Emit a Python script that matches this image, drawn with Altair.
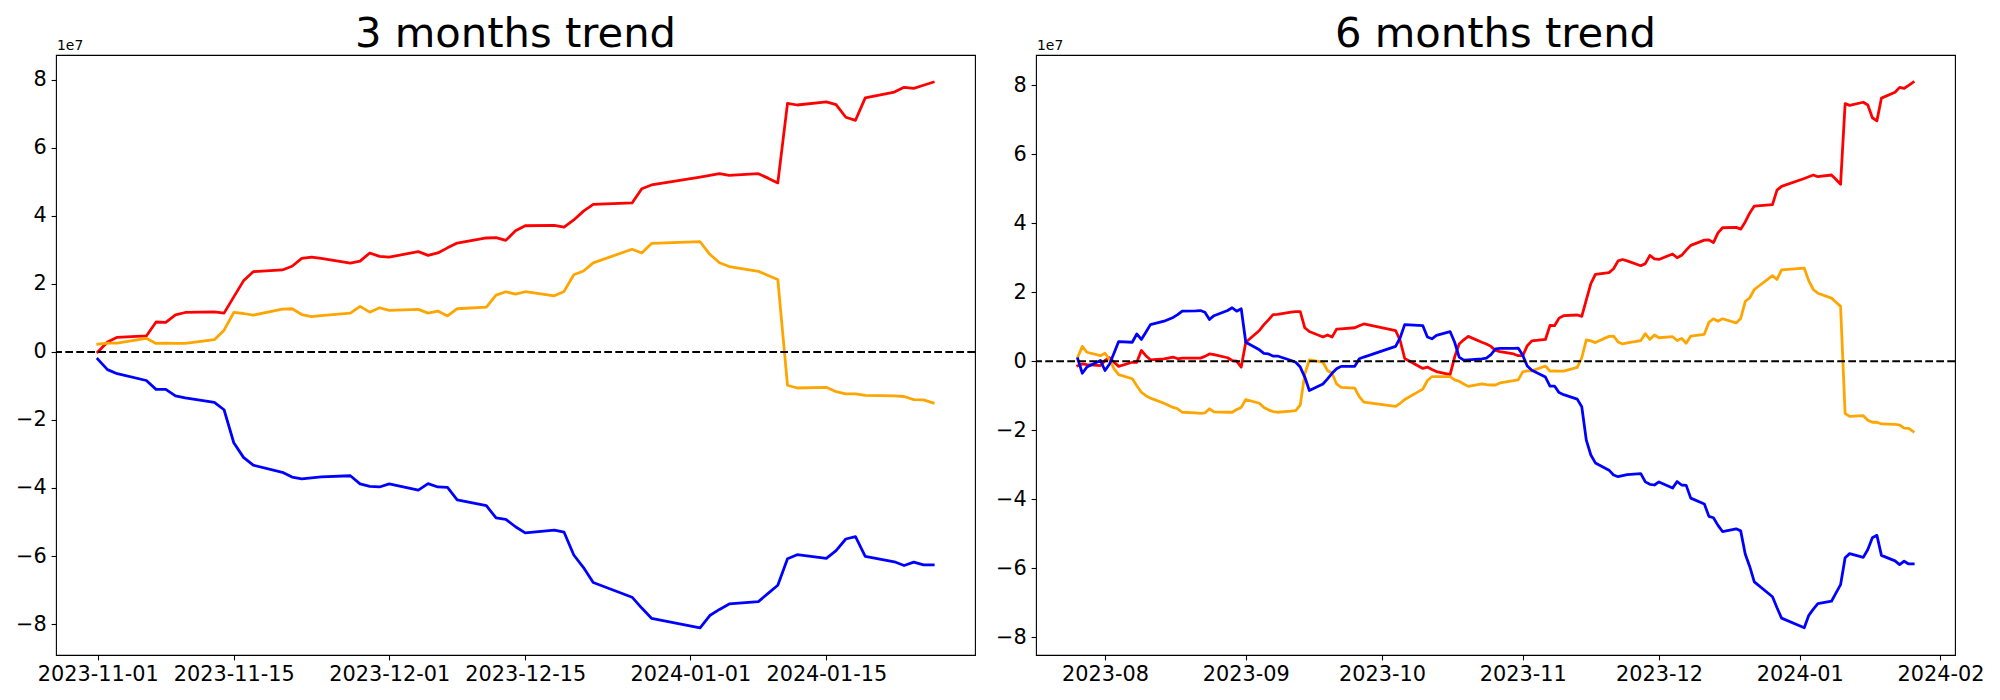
import altair as alt
import pandas as pd

# ---------------- 3 months panel (values in units of 1e7) ----------------
dates_3m = [
    "2023-11-01", "2023-11-02", "2023-11-03", "2023-11-06", "2023-11-07", "2023-11-08", "2023-11-09",
    "2023-11-10", "2023-11-13", "2023-11-14", "2023-11-15", "2023-11-16", "2023-11-17", "2023-11-20",
    "2023-11-21", "2023-11-22", "2023-11-23", "2023-11-24", "2023-11-27", "2023-11-28", "2023-11-29",
    "2023-11-30",
    "2023-12-01", "2023-12-04", "2023-12-05", "2023-12-06", "2023-12-07", "2023-12-08", "2023-12-11",
    "2023-12-12", "2023-12-13", "2023-12-14", "2023-12-15", "2023-12-18", "2023-12-19", "2023-12-20",
    "2023-12-21", "2023-12-22", "2023-12-26", "2023-12-27", "2023-12-28",
    "2024-01-02", "2024-01-03", "2024-01-04", "2024-01-05", "2024-01-08", "2024-01-09", "2024-01-10",
    "2024-01-11", "2024-01-12", "2024-01-15", "2024-01-16", "2024-01-17", "2024-01-18", "2024-01-19",
    "2024-01-22", "2024-01-23", "2024-01-24", "2024-01-25", "2024-01-26",
]
red_3m = [
    0.00, 0.29, 0.43, 0.47, 0.88, 0.87, 1.09, 1.16, 1.18, 1.14, 1.62, 2.09, 2.36, 2.41, 2.52, 2.75,
    2.79, 2.75, 2.61, 2.67, 2.91, 2.81,
    2.79, 2.95, 2.84, 2.91, 3.06, 3.20, 3.35, 3.36, 3.28, 3.56, 3.71, 3.72, 3.67, 3.88, 4.14, 4.34,
    4.38, 4.80, 4.91,
    5.14, 5.19, 5.24, 5.19, 5.24, 5.11, 4.97, 7.31, 7.26, 7.35, 7.27, 6.90, 6.81, 7.47, 7.64, 7.78,
    7.75, 7.84, 7.93,
]
orange_3m = [
    0.23, 0.26, 0.26, 0.40, 0.25, 0.26, 0.25, 0.25, 0.36, 0.64, 1.16, 1.13, 1.08, 1.26, 1.27, 1.10,
    1.04, 1.07, 1.14, 1.34, 1.17, 1.30,
    1.22, 1.25, 1.14, 1.20, 1.06, 1.27, 1.32, 1.67, 1.77, 1.70, 1.77, 1.65, 1.78, 2.27, 2.38, 2.62,
    3.02, 2.91, 3.19,
    3.24, 2.87, 2.62, 2.51, 2.37, 2.25, 2.13, -0.98, -1.06, -1.04, -1.17, -1.23, -1.23, -1.28, -1.29,
    -1.31, -1.40, -1.41, -1.50,
]
blue_3m = [
    -0.21, -0.52, -0.64, -0.84, -1.10, -1.10, -1.29, -1.35, -1.48, -1.70, -2.67, -3.10, -3.33, -3.54,
    -3.68, -3.73, -3.70, -3.67, -3.64, -3.88, -3.95, -3.97,
    -3.88, -4.06, -3.87, -3.97, -3.98, -4.35, -4.52, -4.88, -4.92, -5.14, -5.32, -5.24, -5.30, -5.97,
    -6.34, -6.78, -7.21, -7.53, -7.83,
    -8.11, -7.75, -7.57, -7.41, -7.34, -7.10, -6.86, -6.08, -5.96, -6.07, -5.84, -5.50, -5.43, -6.01,
    -6.17, -6.28, -6.18, -6.26, -6.26,
]

# ---------------- 6 months panel (values in units of 1e7) ----------------
dates_6m = [
    "2023-07-26", "2023-07-27", "2023-07-28", "2023-07-31",
    "2023-08-01", "2023-08-02", "2023-08-03", "2023-08-04", "2023-08-07", "2023-08-08", "2023-08-09",
    "2023-08-10", "2023-08-11", "2023-08-14", "2023-08-16", "2023-08-17", "2023-08-18", "2023-08-21",
    "2023-08-22", "2023-08-23", "2023-08-24", "2023-08-25", "2023-08-28", "2023-08-29", "2023-08-30",
    "2023-08-31",
    "2023-09-01", "2023-09-04", "2023-09-05", "2023-09-06", "2023-09-07", "2023-09-08", "2023-09-11",
    "2023-09-12", "2023-09-13", "2023-09-14", "2023-09-15", "2023-09-18", "2023-09-19", "2023-09-20",
    "2023-09-21", "2023-09-22", "2023-09-25", "2023-09-26", "2023-09-27",
    "2023-10-04", "2023-10-05", "2023-10-06", "2023-10-10", "2023-10-11", "2023-10-12", "2023-10-13",
    "2023-10-16", "2023-10-17", "2023-10-18", "2023-10-19", "2023-10-20", "2023-10-23", "2023-10-24",
    "2023-10-25", "2023-10-26", "2023-10-27", "2023-10-30", "2023-10-31",
] + dates_3m
red_6m = [
    -0.13, -0.08, -0.10, -0.13,
    0.02, 0.10, -0.03, -0.15, -0.03, -0.03, 0.31, 0.16, 0.04, 0.07, 0.12, 0.07, 0.09, 0.09, 0.09, 0.14,
    0.21, 0.19, 0.10, 0.02, 0.00, -0.17,
    0.55, 0.89, 1.06, 1.20, 1.35, 1.36, 1.42, 1.44, 1.44, 0.97, 0.86, 0.70, 0.76, 0.70, 0.93, 0.94,
    0.97, 1.03, 1.08,
    0.89, 0.60, 0.08, -0.21, -0.17, -0.24, -0.30, -0.39, 0.12, 0.50, 0.62, 0.72, 0.55, 0.50, 0.43,
    0.31, 0.28, 0.21, 0.16,
    0.16, 0.45, 0.59, 0.63, 1.04, 1.03, 1.25, 1.32, 1.34, 1.30, 1.78, 2.25, 2.52, 2.57, 2.68, 2.91,
    2.95, 2.91, 2.77, 2.83, 3.07, 2.97,
    2.95, 3.11, 3.00, 3.07, 3.22, 3.36, 3.51, 3.52, 3.44, 3.72, 3.87, 3.88, 3.83, 4.04, 4.30, 4.50,
    4.54, 4.96, 5.07,
    5.30, 5.35, 5.40, 5.35, 5.40, 5.27, 5.13, 7.47, 7.42, 7.51, 7.43, 7.06, 6.97, 7.63, 7.80, 7.94,
    7.91, 8.00, 8.09,
]
orange_6m = [
    0.12, 0.43, 0.26, 0.16,
    0.23, 0.04, -0.22, -0.39, -0.51, -0.71, -0.90, -1.00, -1.07, -1.22, -1.34, -1.38, -1.48, -1.50,
    -1.51, -1.50, -1.38, -1.47, -1.48, -1.48, -1.40, -1.34,
    -1.11, -1.22, -1.34, -1.41, -1.46, -1.48, -1.45, -1.43, -1.27, -0.37, 0.04, -0.03, -0.27, -0.35,
    -0.66, -0.76, -0.78, -1.03, -1.19,
    -1.31, -1.22, -1.11, -0.81, -0.56, -0.45, -0.45, -0.45, -0.54, -0.58, -0.66, -0.73, -0.66, -0.68,
    -0.69, -0.69, -0.63, -0.56, -0.54,
    -0.31, -0.28, -0.28, -0.14, -0.29, -0.28, -0.29, -0.29, -0.18, 0.10, 0.62, 0.59, 0.54, 0.72,
    0.73, 0.56, 0.50, 0.53, 0.60, 0.80, 0.63, 0.76,
    0.68, 0.71, 0.60, 0.66, 0.52, 0.73, 0.78, 1.13, 1.23, 1.16, 1.23, 1.11, 1.24, 1.73, 1.84, 2.08,
    2.48, 2.37, 2.65,
    2.70, 2.33, 2.08, 1.97, 1.83, 1.71, 1.59, -1.52, -1.60, -1.58, -1.71, -1.77, -1.77, -1.82, -1.83,
    -1.85, -1.94, -1.95, -2.04,
]
blue_6m = [
    0.07, -0.35, -0.17, 0.02,
    -0.27, -0.08, 0.24, 0.57, 0.55, 0.79, 0.63, 0.84, 1.06, 1.16, 1.27, 1.35, 1.45, 1.46, 1.47, 1.42,
    1.21, 1.32, 1.47, 1.55, 1.45, 1.52,
    0.55, 0.33, 0.23, 0.21, 0.15, 0.15, 0.02, -0.03, -0.17, -0.46, -0.85, -0.66, -0.51, -0.35, -0.22,
    -0.15, -0.15, 0.07, 0.12,
    0.43, 0.68, 1.06, 1.03, 0.70, 0.65, 0.75, 0.86, 0.55, 0.12, 0.03, 0.04, 0.07, 0.09, 0.19, 0.36,
    0.37, 0.37, 0.38,
    0.17, -0.14, -0.26, -0.46, -0.72, -0.72, -0.91, -0.97, -1.10, -1.32, -2.29, -2.72, -2.95, -3.16,
    -3.30, -3.35, -3.32, -3.29, -3.26, -3.50, -3.57, -3.59,
    -3.50, -3.68, -3.49, -3.59, -3.60, -3.97, -4.14, -4.50, -4.54, -4.76, -4.94, -4.86, -4.92, -5.59,
    -5.96, -6.40, -6.83, -7.15, -7.45,
    -7.73, -7.37, -7.19, -7.03, -6.96, -6.72, -6.48, -5.70, -5.58, -5.69, -5.46, -5.12, -5.05, -5.63,
    -5.79, -5.90, -5.80, -5.88, -5.88,
]

y_ticks = [-8, -6, -4, -2, 0, 2, 4, 6, 8]
series_colors = [("red", "red"), ("orange", "orange"), ("blue", "blue")]

FONT = "DejaVu Sans"
PLOT_W = 919
PLOT_H = 600


def utc(y, m, d, h=0, mi=0):
    return alt.DateTime(year=y, month=m, date=d, hours=h, minutes=mi, utc=True)


def panel(title, dates, red, orange, blue, xdomain, xticks, xfmt, ydomain):
    df = pd.DataFrame({"date": dates, "red": red, "orange": orange, "blue": blue})
    xenc = alt.X(
        "date:T",
        title=None,
        scale=alt.Scale(type="utc", domain=xdomain, nice=False),
        axis=alt.Axis(
            values=xticks, labelExpr=f"utcFormat(datum.value, '{xfmt}')",
            labelFont=FONT, labelFontSize=20.8,
            labelColor="black", labelPadding=4.9, tickSize=4.9, tickWidth=1.1, tickColor="black",
            domain=False, grid=False, labelFlush=False, labelOverlap=False,
        ),
    )
    yscale = alt.Scale(domain=ydomain, nice=False, zero=False)
    yaxis = alt.Axis(
        values=y_ticks, format="d", labelFont=FONT, labelFontSize=20.8, labelColor="black",
        labelPadding=4.9, tickSize=4.9, tickWidth=1.1, tickColor="black", domain=False,
        grid=False, minExtent=47.4, maxExtent=47.4,
    )
    layers = []
    for col, color in series_colors:
        layers.append(
            alt.Chart(df).mark_line(
                color=color, strokeWidth=2.78, strokeCap="square", strokeJoin="round"
            ).encode(x=xenc, y=alt.Y(f"{col}:Q", title=None, scale=yscale, axis=yaxis))
        )
    zero = alt.Chart(pd.DataFrame({"zero": [0]})).mark_rule(
        color="black", strokeWidth=2.08, strokeDash=[7.7, 3.3]
    ).encode(y=alt.Y("zero:Q", title=None, scale=yscale, axis=yaxis))
    offset = alt.Chart(pd.DataFrame({"label": ["1e7"]})).mark_text(
        align="left", baseline="alphabetic", font=FONT, fontSize=13.9, color="black"
    ).encode(text="label:N", x=alt.value(1), y=alt.value(-5))
    title_mark = alt.Chart(pd.DataFrame({"title": [title]})).mark_text(
        align="center", baseline="alphabetic", font=FONT, fontSize=41.7, color="black"
    ).encode(text="title:N", x=alt.value(PLOT_W / 2), y=alt.value(-8.3))
    return alt.layer(*layers, zero, offset, title_mark).properties(width=PLOT_W, height=PLOT_H)


left = panel(
    "3 months trend", dates_3m, red_3m, orange_3m, blue_3m,
    [utc(2023, 10, 27, 16, 48), utc(2024, 1, 30, 7, 12)],
    [utc(2023, 11, 1), utc(2023, 11, 15), utc(2023, 12, 1), utc(2023, 12, 15),
     utc(2024, 1, 1), utc(2024, 1, 15)],
    "%Y-%m-%d",
    [-8.91, 8.73],
)
right = panel(
    "6 months trend", dates_6m, red_6m, orange_6m, blue_6m,
    [utc(2023, 7, 16, 19, 12), utc(2024, 2, 4, 4, 48)],
    [utc(2023, 8, 1), utc(2023, 9, 1), utc(2023, 10, 1), utc(2023, 11, 1),
     utc(2023, 12, 1), utc(2024, 1, 1), utc(2024, 2, 1)],
    "%Y-%m",
    [-8.52, 8.88],
)

chart = alt.hconcat(left, right, spacing=11).properties(
    padding={"left": 0, "top": 5, "right": 0, "bottom": 0},
    background="white",
).configure_view(stroke="black", strokeWidth=1.1)

chart.save("out.html", embed_options={"renderer": "svg", "actions": False})
